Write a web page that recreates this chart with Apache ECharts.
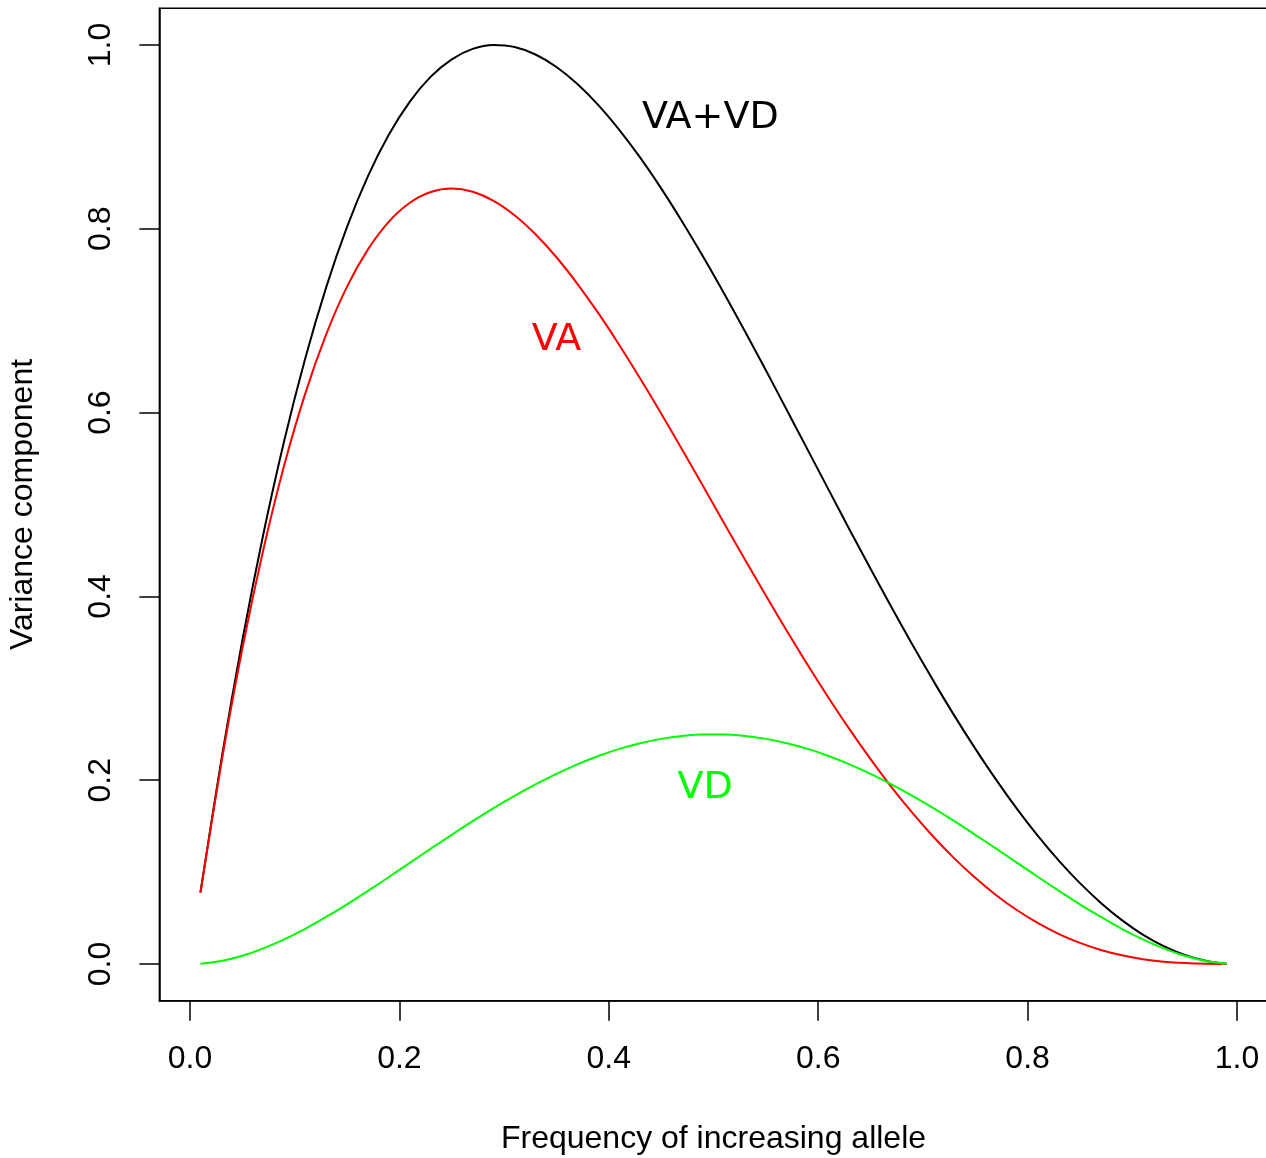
<!DOCTYPE html>
<html>
<head>
<meta charset="utf-8">
<script src="https://cdn.jsdelivr.net/npm/echarts@6/dist/echarts.min.js"></script>
<style>html,body{margin:0;padding:0;background:#fff}#c{width:1266px;height:1158px}</style>
</head>
<body>
<div id="c"></div>
<script>
// Allele frequency p (x values)
const freq = [0.01,0.03,0.05,0.07,0.09,0.11,0.13,0.15,0.17,0.19,0.21,0.23,0.25,0.27,0.29,0.31,0.33,0.35,0.37,0.39,0.41,0.43,0.45,0.47,0.49,0.51,0.53,0.55,0.57,0.59,0.61,0.63,0.65,0.67,0.69,0.71,0.73,0.75,0.77,0.79,0.81,0.83,0.85,0.87,0.89,0.91,0.93,0.95,0.97,0.99];
// Additive variance VA
const vaValues = [0.0776,0.2190,0.3430,0.4504,0.5426,0.6204,0.6848,0.7370,0.7776,0.8078,0.8283,0.8400,0.8438,0.8403,0.8304,0.8147,0.7940,0.7690,0.7401,0.7082,0.6736,0.6371,0.5990,0.5598,0.5200,0.4800,0.4402,0.4010,0.3626,0.3253,0.2895,0.2553,0.2230,0.1926,0.1644,0.1385,0.1150,0.0938,0.0749,0.0585,0.0444,0.0326,0.0230,0.0153,0.0095,0.0053,0.0026,0.0010,0.0002,0.0000];
// Dominance variance VD
const vdValues = [0.0004,0.0034,0.0090,0.0170,0.0268,0.0383,0.0512,0.0650,0.0796,0.0947,0.1101,0.1255,0.1406,0.1554,0.1696,0.1830,0.1955,0.2070,0.2173,0.2264,0.2341,0.2403,0.2450,0.2482,0.2498,0.2498,0.2482,0.2450,0.2403,0.2341,0.2264,0.2173,0.2070,0.1955,0.1830,0.1696,0.1554,0.1406,0.1255,0.1101,0.0947,0.0796,0.0650,0.0512,0.0383,0.0268,0.0170,0.0090,0.0034,0.0004];
// Total VA+VD
const totalValues = [0.0780,0.2224,0.3520,0.4674,0.5694,0.6587,0.7360,0.8020,0.8573,0.9025,0.9384,0.9655,0.9844,0.9957,0.9999,0.9977,0.9896,0.9760,0.9575,0.9346,0.9077,0.8774,0.8440,0.8080,0.7698,0.7298,0.6884,0.6460,0.6029,0.5594,0.5159,0.4726,0.4300,0.3882,0.3475,0.3081,0.2703,0.2344,0.2004,0.1686,0.1392,0.1123,0.0880,0.0665,0.0478,0.0321,0.0195,0.0100,0.0036,0.0004];
// Axis tick values
const xTicks = [0, 0.2, 0.4, 0.6, 0.8, 1.0];
const yTicks = [0, 0.2, 0.4, 0.6, 0.8, 1.0];
// Curve annotations
const annoNames = ['VA+VD', 'VA', 'VD'];
const annoX = [0.497, 0.35, 0.492];
const annoY = [0.92, 0.679, 0.191];
const annoColors = ['#000000', '#FF0000', '#00FF00'];

const pairs = vals => freq.map((p, i) => [p, vals[i]]);
const axisFont = {fontFamily: 'Liberation Sans, Arial, sans-serif', fontSize: 32, color: '#000'};
const annoFont = '"DejaVu Sans", Verdana, sans-serif';

const chart = echarts.init(document.getElementById('c'), null, {renderer: 'canvas'});
chart.setOption({
  animation: false,
  backgroundColor: '#fff',
  grid: {left: 159.4, top: 8.2, width: 1108.2, height: 992.6, show: true, borderColor: '#000', borderWidth: 1.5, backgroundColor: 'transparent', containLabel: false, outerBoundsMode: 'none'},
  xAxis: {
    type: 'value', min: -0.0292, max: 1.0292,
    name: 'Frequency of increasing allele', nameLocation: 'middle', nameGap: 122,
    nameTextStyle: axisFont,
    axisLine: {show: true, onZero: false, lineStyle: {color: '#000', width: 1.5}},
    axisTick: {show: true, inside: false, length: 20, customValues: xTicks, lineStyle: {color: '#000', width: 1.5}},
    axisLabel: Object.assign({customValues: xTicks, margin: 42, formatter: v => v.toFixed(1)}, axisFont),
    splitLine: {show: false}
  },
  yAxis: {
    type: 'value', min: -0.04, max: 1.04,
    name: 'Variance component', nameLocation: 'middle', nameGap: 120,
    nameTextStyle: axisFont,
    axisLine: {show: true, onZero: false, lineStyle: {color: '#000', width: 1.5}},
    axisTick: {show: true, inside: false, length: 20, customValues: yTicks, lineStyle: {color: '#000', width: 1.5}},
    axisLabel: Object.assign({customValues: yTicks, margin: 42, rotate: 90, formatter: v => v.toFixed(1)}, axisFont),
    splitLine: {show: false}
  },
  series: [
    {type: 'line', data: pairs(totalValues), showSymbol: false, smooth: 0.3, lineStyle: {color: '#000000', width: 2}, z: 3},
    {type: 'line', data: pairs(vaValues), showSymbol: false, smooth: 0.3, lineStyle: {color: '#FF0000', width: 2}, z: 3},
    {type: 'line', data: pairs(vdValues), showSymbol: false, smooth: 0.3, lineStyle: {color: '#00FF00', width: 2}, z: 3},
    {
      type: 'scatter', symbolSize: 1, silent: true, z: 4,
      itemStyle: {opacity: 0},
      label: {show: true, position: 'inside', formatter: '{b}', fontFamily: annoFont, fontSize: 38, opacity: 1},
      data: annoNames.map((n, i) => ({name: n, value: [annoX[i], annoY[i]],
        label: {color: annoColors[i]}}))
    }
  ]
});
</script>
</body>
</html>
